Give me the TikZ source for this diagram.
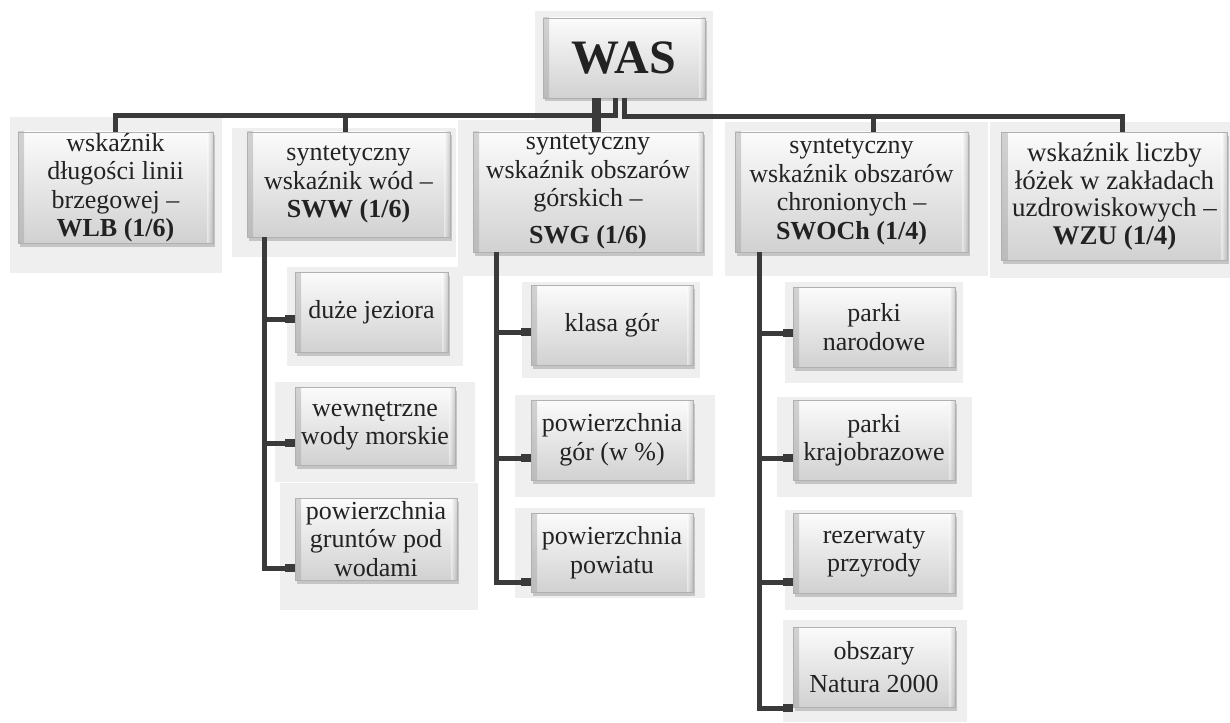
\documentclass[tikz,border=0pt]{standalone}
\usepackage{fontspec}
\setmainfont{Liberation Serif}
\usetikzlibrary{shadows,calc}
\definecolor{ln}{HTML}{3A3A3A}
\definecolor{bgc}{HTML}{EFEFEF}
\definecolor{tx}{HTML}{222222}
\tikzset{
  gbox/.style={rectangle, inner sep=0pt, align=center, text=tx,
    top color=gray!3, bottom color=gray!36, draw=gray!62, line width=0.8pt,
    font=\fontsize{26}{28.5}\selectfont,
    drop shadow={shadow xshift=1.5pt, shadow yshift=-3.5pt, opacity=0.45, fill=gray!85},
    path picture={
      \shade[left color=gray!75, right color=white, fill opacity=0.45]
        (path picture bounding box.south west) rectangle ([xshift=6pt]path picture bounding box.north west);
      \shade[left color=white, right color=gray!75, fill opacity=0.45]
        ([xshift=-6pt]path picture bounding box.south east) rectangle (path picture bounding box.north east);
    }},
  bgrect/.style={fill=bgc, draw=none},
  conn/.style={draw=ln, line width=5pt, line join=miter},
  connend/.style={draw=ln, line width=8pt},
}
\begin{document}
\begin{tikzpicture}[x=1pt, y=-1pt]
\useasboundingbox (0,0) rectangle (1230,722);
\fill[white] (0,0) rectangle (1230,722);
% background panels
\fill[bgrect] (535,11) rectangle (713,120);
\fill[bgrect] (10,117) rectangle (222,273);
\fill[bgrect] (232,128) rectangle (456,257);
\fill[bgrect] (458,120) rectangle (713,276);
\fill[bgrect] (725,122) rectangle (988,276);
\fill[bgrect] (990,122) rectangle (1230,278);
\fill[bgrect] (287,267) rectangle (463,366);
\fill[bgrect] (275,382) rectangle (475,482);
\fill[bgrect] (280,483) rectangle (478,610);
\fill[bgrect] (522,282) rectangle (700,378);
\fill[bgrect] (515,395) rectangle (715,497);
\fill[bgrect] (515,508) rectangle (705,598);
\fill[bgrect] (785,282) rectangle (963,383);
\fill[bgrect] (777,397) rectangle (972,497);
\fill[bgrect] (785,510) rectangle (963,610);
\fill[bgrect] (783,620) rectangle (967,722);

% nodes
\node[gbox, minimum width=162pt, minimum height=80pt, font=\fontsize{48}{50}\selectfont\bfseries] (WAS) at (624,58) {WAS};
\node[gbox, minimum width=195pt, minimum height=111pt] (WLB) at (115.5,187.5) {wskaźnik\\długości linii\\brzegowej --\\\textbf{WLB (1/6)}};
\node[gbox, minimum width=203pt, minimum height=105pt] (SWW) at (348.5,184.5) {syntetyczny\\wskaźnik wód --\\\textbf{SWW (1/6)}};
\node[gbox, minimum width=230pt, minimum height=120pt] (SWG) at (588,192) {syntetyczny\\wskaźnik obszarów\\górskich --\\[8pt]\textbf{SWG (1/6)}};
\node[gbox, minimum width=233pt, minimum height=120pt] (SWOCh) at (851.5,192) {syntetyczny\\wskaźnik obszarów\\chronionych --\\\textbf{SWOCh (1/4)}};
\node[gbox, minimum width=226pt, minimum height=128pt, font=\fontsize{27}{27.5}\selectfont] (WZU) at (1114.5,196.5) {wskaźnik liczby\\łóżek w zakładach\\uzdrowiskowych --\\\textbf{WZU (1/4)}};

\node[gbox, minimum width=153pt, minimum height=80pt] (dj) at (371.5,312) {duże jeziora};
\node[gbox, minimum width=160pt, minimum height=78pt] (ww) at (375,426) {wewnętrzne\\wody morskie};
\node[gbox, minimum width=162pt, minimum height=82pt] (pg) at (376,539) {powierzchnia\\gruntów pod\\wodami};

\node[gbox, minimum width=162pt, minimum height=80pt] (kg) at (612,325) {klasa gór};
\node[gbox, minimum width=162pt, minimum height=80pt] (pgor) at (612,440) {powierzchnia\\gór (w \%)};
\node[gbox, minimum width=162pt, minimum height=79pt] (pp) at (612,552.5) {powierzchnia\\powiatu};

\node[gbox, minimum width=162pt, minimum height=80pt] (pn) at (874,327) {parki\\narodowe};
\node[gbox, minimum width=162pt, minimum height=80pt] (pk) at (874,440) {parki\\krajobrazowe};
\node[gbox, minimum width=162pt, minimum height=80pt] (rp) at (874,553) {rezerwaty\\przyrody};
\node[gbox, minimum width=162pt, minimum height=80pt] (on) at (874,667) {obszary\\[5pt]Natura 2000};

% top connectors
\draw[conn, line width=9pt] ($(WAS.south)+(-28,0)$) -- ($(SWG.north)+(8,0)$);
\draw[conn] ($(WAS.south)+(-28,17)$) -| ($(WAS.south)+(-9,0)$);
\draw[conn] ($(WAS.south)+(-28,17)$) -| (WLB.north);
\draw[conn] ($(WAS.south)+(0,0)$) |- ($(WZU.north)+(7.5,-16)$) -- ($(WZU.north)+(7.5,0)$);
\draw[conn] ($(SWW.north)+(-3.5,-16)$) -- ($(SWW.north)+(-3.5,0)$);
\draw[conn] ($(SWOCh.north)+(21.5,-16)$) -- ($(SWOCh.north)+(21.5,0)$);

% SWW children
\draw[conn] ($(SWW.south west)+(18,0)$) |- (pg.west |- 0,568);
\draw[conn] (265,319) -- (dj.west |- 0,319);
\draw[conn] (265,443) -- (ww.west |- 0,443);
\draw[connend] (285,319) -- (dj.west |- 0,319);
\draw[connend] (285,443) -- (ww.west |- 0,443);
\draw[connend] (285,568) -- (pg.west |- 0,568);

% SWG children
\draw[conn] ($(SWG.south west)+(24,0)$) |- (pp.west |- 0,582);
\draw[conn] (497,332) -- (kg.west |- 0,332);
\draw[conn] (497,458) -- (pgor.west |- 0,458);
\draw[connend] (521,332) -- (kg.west |- 0,332);
\draw[connend] (521,458) -- (pgor.west |- 0,458);
\draw[connend] (521,582) -- (pp.west |- 0,582);

% SWOCh children
\draw[conn] ($(SWOCh.south west)+(25,0)$) |- (on.west |- 0,708);
\draw[conn] (760,333) -- (pn.west |- 0,333);
\draw[conn] (760,458) -- (pk.west |- 0,458);
\draw[conn] (760,582) -- (rp.west |- 0,582);
\draw[connend] (783,333) -- (pn.west |- 0,333);
\draw[connend] (783,458) -- (pk.west |- 0,458);
\draw[connend] (783,582) -- (rp.west |- 0,582);
\draw[connend] (783,708) -- (on.west |- 0,708);
\end{tikzpicture}
\end{document}
